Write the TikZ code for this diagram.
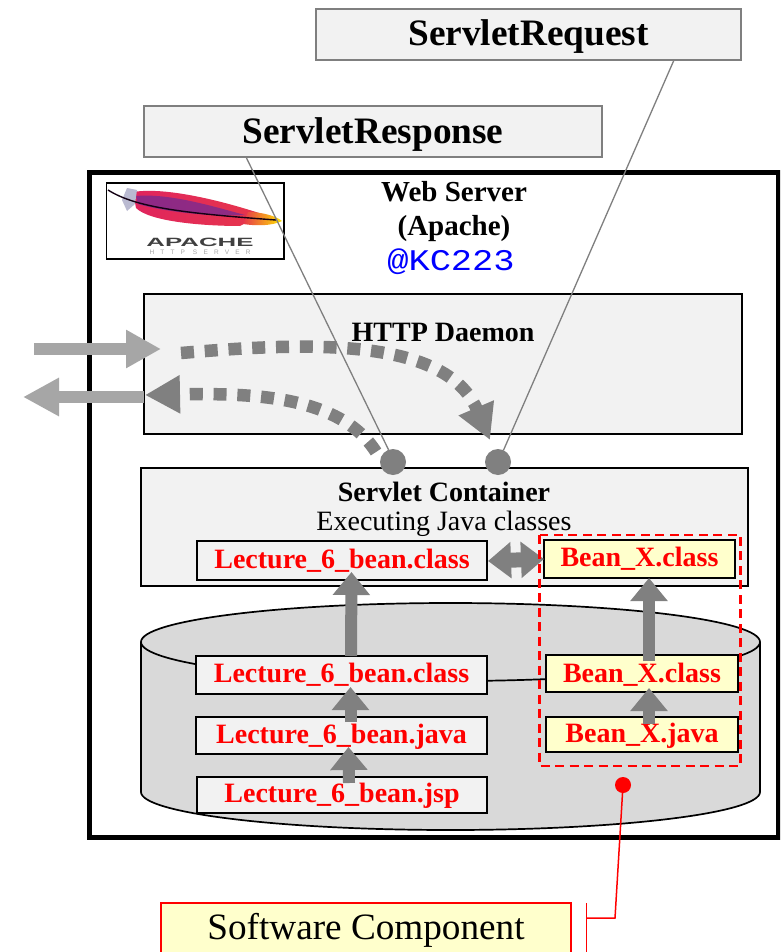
\documentclass[tikz,border=0pt]{standalone}
\usepackage{fontspec}
\usepackage{graphicx}
\setmainfont{Liberation Serif}
\newfontfamily\lsans{Liberation Sans}
\newfontfamily\lmono{Liberation Mono}
\usetikzlibrary{arrows.meta}
\definecolor{boxg}{HTML}{F2F2F2}
\definecolor{cyl}{HTML}{D9D9D9}
\definecolor{arrg}{HTML}{808080}
\definecolor{lightarr}{HTML}{A6A6A6}
\definecolor{yel}{HTML}{FFFFCC}
\definecolor{edge}{HTML}{7F7F7F}
\definecolor{featherred}{HTML}{E0245E}
\definecolor{featherpurple}{HTML}{7A2A90}
\tikzset{
  x=1pt,y=-1pt,
  grid box/.style={draw=black,line width=1.6pt,fill=boxg,inner sep=0pt,outer sep=0pt},
  file box/.style={draw=black,line width=2pt,fill=boxg,inner sep=0pt,outer sep=0pt,text=red,font=\bfseries\fontsize{28}{28}\selectfont},
  bean box/.style={file box,fill=yel},
  title box/.style={draw=edge,line width=1.2pt,fill=boxg,inner sep=0pt,outer sep=0pt,font=\bfseries\fontsize{37.3}{37.3}\selectfont},
  label/.style={inner sep=0pt,font=\bfseries\fontsize{28}{28}\selectfont},
  bigarrow/.style={draw=arrg,line width=12pt,-{Triangle[length=23pt,width=36pt]}},
  flowarrow/.style={draw=lightarr,line width=11.5pt,-{Triangle[length=35pt,width=36pt]}},
  dotflow/.style={draw=arrg,line width=12.5pt,dash pattern=on 13pt off 10.8pt,-{Triangle[length=35pt,width=36pt]}},
  thinline/.style={draw=edge,line width=1.3pt},
  portdot/.style={circle,fill=arrg,minimum size=26pt,inner sep=0pt,outer sep=0pt},
}
\newcommand{\boxat}[7][]{\node[#2,#1,minimum width=#5pt-#3pt,minimum height=#6pt-#4pt] (#7) at ({(#3+#5)/2},{(#4+#6)/2})}
\newcommand{\lowered}[2]{\raisebox{-#1pt}[\height][\depth]{#2}}
\begin{document}
\begin{tikzpicture}
\path[use as bounding box] (0,0) rectangle (780,952);
\clip (0,0) rectangle (780,952);
\fill[white] (0,0) rectangle (780,952);
% titles
\boxat{title box}{316}{9}{741}{60}{req} {\lowered{2}{ServletRequest}};
\boxat{title box}{144}{106}{602}{157}{resp} {\lowered{3}{ServletResponse}};
% frame
\node[draw=black,line width=5pt,fill=white,minimum width=689pt,minimum height=664pt,inner sep=0pt,outer sep=0pt] (frame) at (433.5,505) {};
% logo
\boxat{grid box,fill=white,line width=1.5pt}{106.5}{183}{284}{259}{logo} {};
\shade[left color=featherred,right color=featherred!80!orange]
  (133,192) .. controls (170,186) and (235,205) .. (262,214) -- (240,226) .. controls (205,226) and (150,222) .. (136,208) -- cycle;
\fill[featherpurple,opacity=.8] (136,196) .. controls (170,193) and (215,207) .. (245,215) .. controls (212,217) and (165,212) .. (138,204) -- cycle;
\shade[left color=featherred!80!orange,right color=yellow!80!orange] (248,212) .. controls (262,212) and (276,216) .. (282,221) .. controls (272,226) and (256,226) .. (243,224) -- cycle;
\fill[blue!20!gray!45] (127,188) -- (137,190) -- (135,204) -- (127,211) -- (122,200) -- cycle;
\draw[black!85!violet,line width=1.4pt] (108,190) .. controls (135,207) and (180,213) .. (276,220);
\node[inner sep=0pt,text=black!75] (apache) at (200,242.5) {\scalebox{2.15}[1]{\lsans\fontsize{12}{12}\selectfont\bfseries APACHE}};
\node[inner sep=0pt,text=black!35] (httpserver) at (200,252.5) {\lsans\fontsize{6.5}{6.5}\selectfont\addfontfeature{LetterSpace=95}HTTP SERVER};
% server title
\node[label,font=\bfseries\fontsize{29}{29}\selectfont] (web) at (454,192) {Web Server};
\node[label,font=\bfseries\fontsize{29}{29}\selectfont] (apachelab) at (454,229) {(Apache)};
\node[inner sep=0pt,text=blue] (kc) at (451,262) {\scalebox{1.18}[1]{\lmono\fontsize{30}{30}\selectfont @KC223}};
% daemon
\boxat{grid box}{144}{294}{742}{434}{daemon} {};
\node[label] (daemonlab) at (443,332) {HTTP Daemon};
% container
\boxat{grid box}{141}{468}{748}{586}{container} {};
\node[label] (conlab) at (444,492) {Servlet Container};
\node[inner sep=0pt,font=\fontsize{28}{28}\selectfont] (execlab) at (444,524) {Executing Java classes};
% cylinder
\path[fill=cyl,draw=black,line width=1.7pt] (141,642) arc[x radius=309.5,y radius=39,start angle=180,end angle=360] -- (760,792) arc[x radius=309.5,y radius=38,start angle=0,end angle=180] -- cycle;
\draw[black,line width=1.7pt] (141,642) arc[x radius=309.5,y radius=39,start angle=180,end angle=0];
% files
\boxat{file box}{197}{541}{487}{580}{topclass} {Lecture\_6\_bean.class};
\boxat{bean box}{544}{540}{735}{578}{topbean} {Bean\_X.class};
\boxat{file box}{196}{656}{487}{694}{midclass} {Lecture\_6\_bean.class};
\boxat{file box}{196}{717}{487}{754}{midjava} {\lowered{1}{Lecture\_6\_bean.java}};
\boxat{file box}{197}{777}{487}{813}{midjsp} {\lowered{1}{Lecture\_6\_bean.jsp}};
\boxat{bean box}{546}{655}{738}{692}{midbean} {\lowered{1}{Bean\_X.class}};
\boxat{bean box}{546}{717}{738}{752}{beanjava} {\lowered{1}{Bean\_X.java}};
% arrows
\draw[bigarrow] ([xshift=9.5pt]midclass.north) -- ([xshift=9.5pt,yshift=8pt]topclass.south);
\draw[bigarrow] ([xshift=9pt,yshift=-5pt]midjava.north) -- ([xshift=9pt,yshift=7pt]midclass.south);
\draw[bigarrow] ([xshift=7pt,yshift=-6pt]midjsp.north) -- ([xshift=7pt,yshift=7pt]midjava.south);
\draw[bigarrow] ([xshift=7pt,yshift=-6pt]midbean.north) -- ([xshift=9.5pt]topbean.south);
\draw[bigarrow] ([xshift=7pt,yshift=-7pt]beanjava.north) -- ([xshift=7pt,yshift=4pt]midbean.south);
\draw[draw=arrg,line width=15pt,{Triangle[length=23pt,width=35pt]}-{Triangle[length=23pt,width=35pt]}] ([xshift=1pt,yshift=-0.5pt]topclass.east) -- ([yshift=0pt]topbean.west);
% dashed group
\draw[red,line width=2.4pt,dash pattern=on 9pt off 5.5pt] (539.5,535) rectangle (740.5,766);
% flows
\coordinate (inL) at (34,349);
\coordinate (inR) at (161,349);
\coordinate (outL) at (23,397);
\coordinate (outR) at (144,397);
\draw[flowarrow] (inL) -- (inR);
\draw[flowarrow,-{Triangle[length=36pt,width=36pt]}] (outR) -- (outL);
\node[portdot] (p1) at (393,462) {};
\node[portdot] (p2) at (498,462) {};
\coordinate (d1s) at (181,353);
\coordinate (d1e) at (490,440);
\coordinate (d2s) at (376,452);
\coordinate (d2e) at (145,395);
\draw[dotflow] (d1s) .. controls (300,343) and (445,335) .. (d1e);
\draw[dotflow] (d2s) .. controls (340,395) and (250,393) .. (d2e);
\draw[thinline] (246,157) -- (p1.110);
\draw[thinline] (674,60) -- (p2.65);
% callout
\node[circle,fill=red,minimum size=16pt,inner sep=0pt,outer sep=0pt] (dot) at (623,785) {};
\boxat{draw=red,line width=1.8pt,fill=yel,inner sep=0pt,outer sep=0pt}{161}{903}{571}{975}{soft} {};
\node[inner sep=0pt,font=\fontsize{37.2}{37.2}\selectfont] (softlab) at (366,930) {Software Component};
\coordinate (bar) at (586.5,918);
\coordinate (elbow) at (615,918);
\coordinate (bart) at (586.5,903);
\coordinate (barb) at (586.5,960);
\draw[red,line width=1.5pt] (dot.center) -- (elbow) -- (bar);
\draw[red,line width=1.5pt] (bart) -- (barb);
\end{tikzpicture}
\end{document}
